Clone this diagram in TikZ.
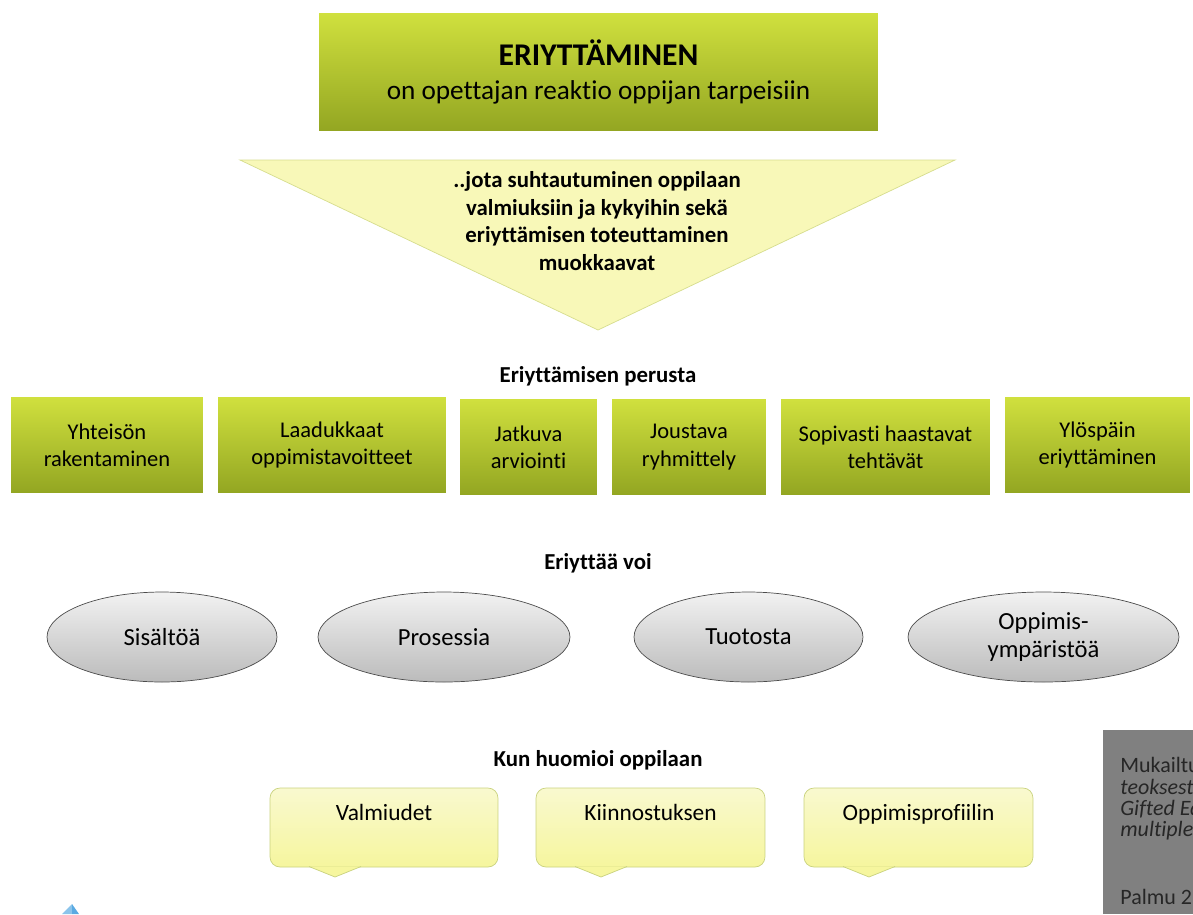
\documentclass[tikz,border=0pt]{standalone}
\usepackage{fontspec}
\setmainfont{Carlito}[Ligatures=NoCommon]
\usetikzlibrary{shapes.geometric}

\begin{document}
\begin{tikzpicture}[x=0.02cm,y=-0.02cm]

		\definecolor{GreenTop}{HTML}{D0E03E}
		\definecolor{GreenBottom}{HTML}{93A622}
		\definecolor{PaleYellow}{HTML}{F8F8B8}
		\definecolor{PaleBorder}{HTML}{D6DD8E}
		\definecolor{CallTop}{HTML}{F9F9CF}
		\definecolor{CallBottom}{HTML}{F6F69E}
		\definecolor{CallBorder}{HTML}{C9D27E}
		\definecolor{GrayTop}{HTML}{F2F2F2}
		\definecolor{GrayBottom}{HTML}{BBBBBB}
		\definecolor{NoteGray}{HTML}{808080}
		\definecolor{ArrowBlue}{HTML}{5AAAE2}

		\tikzset{
			titleBox/.style={
				top color=GreenTop,
				bottom color=GreenBottom,
				minimum width=11.18 cm,
				minimum height=2.36 cm,
				inner sep=0,
				outer sep=0pt,
				align=center,
			},
			baseBox/.style={
				top color=GreenTop,
				bottom color=GreenBottom,
				minimum height=1.9 cm,
				inner sep=0,
				outer sep=0pt,
				align=center,
				font=\fontsize{12.8}{15.6}\selectfont,
			},
			headText/.style={
				font=\bfseries\fontsize{13}{15}\selectfont,
			},
			wayEllipse/.style={
				ellipse,
				draw=black!70,
				top color=GrayTop,
				bottom color=GrayBottom,
				minimum height=1.8 cm,
				inner sep=0,
				align=center,
				font=\fontsize{14}{16.4}\selectfont,
			},
			needBox/.style={
				draw=CallBorder,
				top color=CallTop,
				bottom color=CallBottom,
				rounded corners=0.2cm,
				minimum height=1.58 cm,
				text height=0.64 cm,
				text depth=0.94 cm,
				inner sep=0,
				outer sep=0pt,
				font=\fontsize{13.3}{15.6}\selectfont,
			},
			needTip/.style={
				draw=CallBorder,
				fill=CallBottom,
				line join=round,
			},
		}

		\useasboundingbox (0,0) rectangle (1193,914);

		% Title
		\node[titleBox] (title) at (598.5,72) {{\bfseries\fontsize{18}{20}\selectfont ERIYTTÄMINEN}\\[7pt]{\fontsize{15.5}{17}\selectfont on opettajan reaktio oppijan tarpeisiin}};

		% Triangle
		\coordinate (triLeft) at (240,160);
		\coordinate (triRight) at (955,160);
		\coordinate (triTip) at (598,330);
		\draw[PaleBorder,fill=PaleYellow] (triLeft) -- (triRight) -- (triTip) -- cycle;
		\node[align=center,font=\bfseries\fontsize{13}{15.6}\selectfont] (triText) at (597,221) {..jota suhtautuminen oppilaan\\valmiuksiin ja kykyihin sekä\\eriyttämisen toteuttaminen\\muokkaavat};

		% Basis
		\node[headText] (basisHead) at (598,376) {Eriyttämisen perusta};
		\node[baseBox,minimum width=3.84 cm] (community) at (107,445) {Yhteisön\\rakentaminen};
		\node[baseBox,minimum width=4.56 cm] (goals) at (332,445) {Laadukkaat\\oppimistavoitteet};
		\node[baseBox,minimum width=2.74 cm] (assessment) at (528.5,447) {Jatkuva\\arviointi};
		\node[baseBox,minimum width=3.08 cm] (grouping) at (689,447) {Joustava\\ryhmittely};
		\node[baseBox,minimum width=4.18 cm] (tasks) at (885.5,447) {Sopivasti haastavat\\tehtävät};
		\node[baseBox,minimum width=3.7 cm] (upward) at (1097.5,445) {Ylöspäin\\eriyttäminen};

		% Ways
		\node[headText] (waysHead) at (598,563) {Eriyttää voi};
		\node[wayEllipse,minimum width=4.6 cm] (content) at (162,637) {Sisältöä};
		\node[wayEllipse,minimum width=5.04 cm] (process) at (444,637) {Prosessia};
		\node[wayEllipse,minimum width=4.58 cm] (product) at (748.5,637) {Tuotosta};
		\node[wayEllipse,minimum width=5.42 cm] (environment) at (1043.5,637) {Oppimis-\\ympäristöä};

		% Pupil
		\node[headText] (pupilHead) at (598,760) {Kun huomioi oppilaan};
		\node[needBox,minimum width=4.56 cm] (readiness) at (384,827.5) {Valmiudet};
		\node[needBox,minimum width=4.58 cm] (interests) at (650.5,827.5) {Kiinnostuksen};
		\node[needBox,minimum width=4.58 cm] (profile) at (918.5,827.5) {Oppimisprofiilin};

		% Tips
		\foreach \need/\tipx in {readiness/335,interests/601,profile/869} {
			\coordinate (\need Tip) at (\tipx,877);
			\path[needTip] (\need Tip) ++(-26,-10.5) -- (\need Tip) -- ++(26,-10.5);
		}

		% Note
		\fill[NoteGray] (1103,730) rectangle (1193,914);
		\node[anchor=north west,align=left,inner sep=0,text=black!85,font=\fontsize{12.5}{12.2}\selectfont] (note) at (1120,757) {Mukailtu\\\textit{teoksesta}\\\textit{Gifted Ed}\\\textit{multiple}\\[26.5pt]Palmu 2};

		% Arrow
		\fill[ArrowBlue!70] (62,914) -- (72,904) -- (72,914) -- cycle;
		\fill[ArrowBlue] (72,904) -- (79,914) -- (72,914) -- cycle;

	\end{tikzpicture}
\end{document}
